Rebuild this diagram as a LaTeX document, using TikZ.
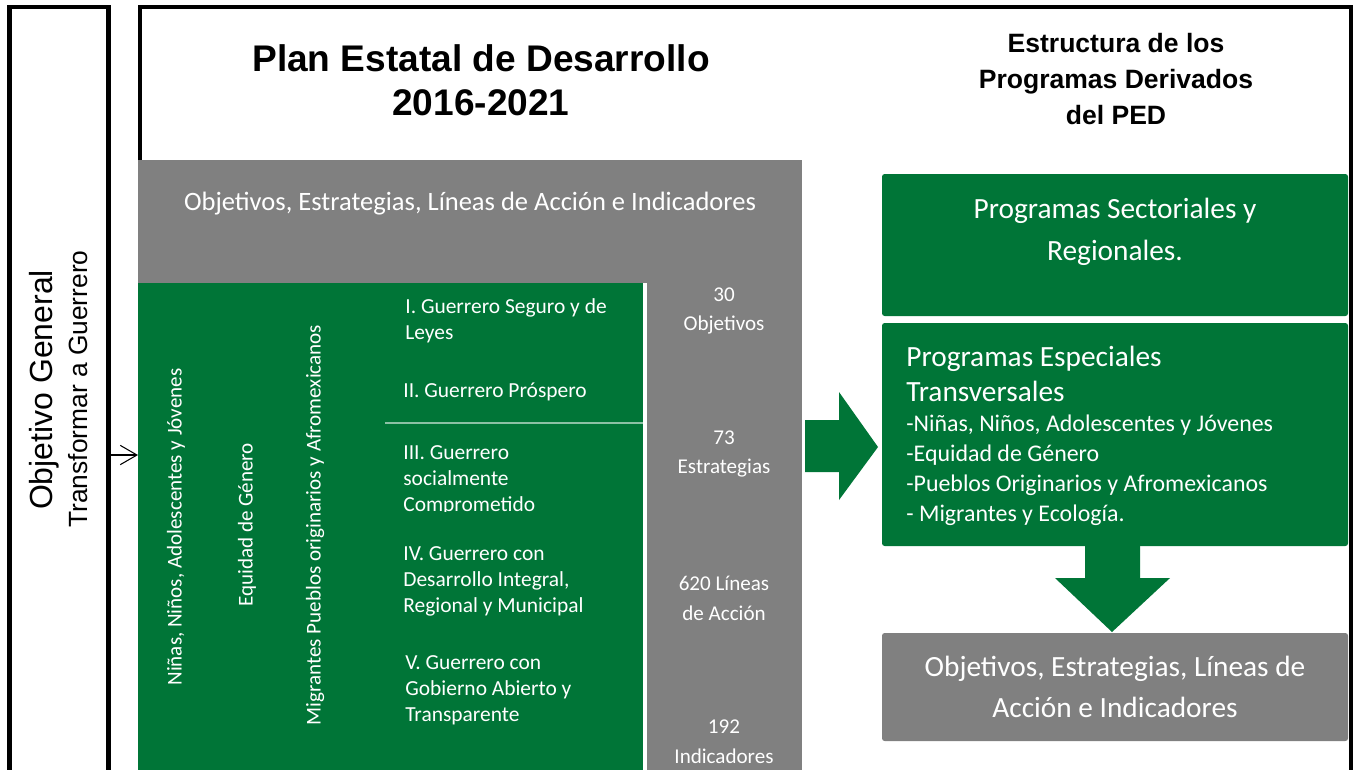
\documentclass[tikz,border=0pt]{standalone}
\usepackage{fontspec}
\setmainfont{Carlito}
\newfontfamily\arialfont{Liberation Sans}
\usepackage{tikz}
\usetikzlibrary{arrows.meta}

\definecolor{pedgreen}{RGB}{0,117,55}
\definecolor{pedgray}{RGB}{128,128,128}
\newcommand{\fsz}[2]{\fontsize{#1}{#2}\selectfont}

\begin{document}
\begin{tikzpicture}[x=0.02cm,y=-0.02cm,
  frame/.style={line width=2.3pt},
  wtext/.style={text=white,inner sep=0pt},
  btitle/.style={align=center,inner sep=0pt},
  eje/.style={wtext,rotate=90,font=\fsz{12}{14}},
  item/.style={wtext,anchor=west,align=left,font=\fsz{12.2}{14.8}},
  cifra/.style={wtext,align=center,font=\fsz{12}{17}}]
\useasboundingbox (0,0) rectangle (1354,769);

% objetivo general
\draw[frame] (9.5,7) rectangle (108.5,800);
\node[rotate=90,inner sep=0pt,font=\arialfont\fsz{18.2}{22}] (objgen) at (44,390) {Objetivo General};
\node[rotate=90,inner sep=0pt,font=\arialfont\fsz{15}{18}] (transf) at (78,389) {Transformar a Guerrero};

% marco del PED
\draw[frame] (140,7) rectangle (1351,800);
\coordinate (objout) at (110.5,455);
\coordinate (planin) at (138,455);
\draw[-{Straight Barb[length=9.5pt,width=11pt]},line width=0.6pt] (objout) -- (planin);

\node[btitle,font=\arialfont\bfseries\fsz{21.1}{25}] (ped) at (481,80) {Plan Estatal de Desarrollo\\2016-2021};

\fill[pedgray] (138,160) rectangle (802,283);
\node[wtext,font=\fsz{15.1}{18}] (oeli) at (470,204) {Objetivos, Estrategias, Líneas de Acción e Indicadores};

\fill[pedgreen] (138,283) rectangle (643,780);
\fill[pedgray] (647,283) rectangle (802,780);
\draw[pedgreen!45!white,line width=0.6pt] (385,423) -- (643,423);

% ejes transversales
\node[eje] (ninas) at (176,527) {Niñas, Niños, Adolescentes y Jóvenes};
\node[eje] (equidad) at (247,525) {Equidad de Género};
\node[eje] (migr) at (315,525) {Migrantes Pueblos originarios y Afromexicanos};

% ejes del plan
\node[item] (ejeI) at (405,321) {I. Guerrero Seguro y de\\Leyes};
\node[item] (ejeII) at (403,392) {II. Guerrero Próspero};
\begin{scope}
\clip (385,423) rectangle (643,511);
\node[item] (ejeIII) at (403,480) {III. Guerrero\\socialmente\\Comprometido};
\end{scope}
\node[item] (ejeIV) at (403,581) {IV. Guerrero con\\Desarrollo Integral,\\Regional y Municipal};
\node[item] (ejeV) at (405,690) {V. Guerrero con\\Gobierno Abierto y\\Transparente};

% cifras
\node[cifra] (nobj) at (724,311) {30\\Objetivos};
\node[cifra] (nest) at (724,454) {73\\Estrategias};
\node[cifra] (nlin) at (724,598) {620 Líneas\\de Acción};
\node[cifra] (nind) at (724,742) {192\\Indicadores};

% programas derivados
\node[btitle,font=\arialfont\bfseries\fsz{15.1}{20.5}] (estr) at (1116,79) {Estructura de los\\Programas Derivados\\del PED};

\fill[pedgreen,rounded corners=1.5pt] (882,174) rectangle (1348,316);
\node[wtext,align=center,font=\fsz{16.7}{23.9}] (sect) at (1115,232) {Programas Sectoriales y\\Regionales.};

\fill[pedgreen,rounded corners=1.5pt] (882,323) rectangle (1348,546);
\node[wtext,anchor=west,align=left,font=\fsz{16.7}{19.9}] (esp) at (906,374) {Programas Especiales\\Transversales};
\node[wtext,anchor=west,align=left,font=\fsz{13.6}{17}] (espl) at (906,470) {-Niñas, Niños, Adolescentes y Jóvenes\\-Equidad de Género\\-Pueblos Originarios y Afromexicanos\\- Migrantes y Ecología.};

\fill[pedgray,rounded corners=1.5pt] (882,633) rectangle (1348,741);
\node[wtext,align=center,font=\fsz{16.7}{23.3}] (oeli2) at (1115,687) {Objetivos, Estrategias, Líneas de\\Acción e Indicadores};

% flechas de bloque
\fill[pedgreen] (805,420) -- (839,420) -- (839,392) -- (878,447) -- (839,500) -- (839,472) -- (805,472) -- cycle;
\fill[pedgreen] (1085,546) -- (1140,546) -- (1140,578) -- (1170,578) -- (1112,632) -- (1055,578) -- (1085,578) -- cycle;
\end{tikzpicture}
\end{document}
